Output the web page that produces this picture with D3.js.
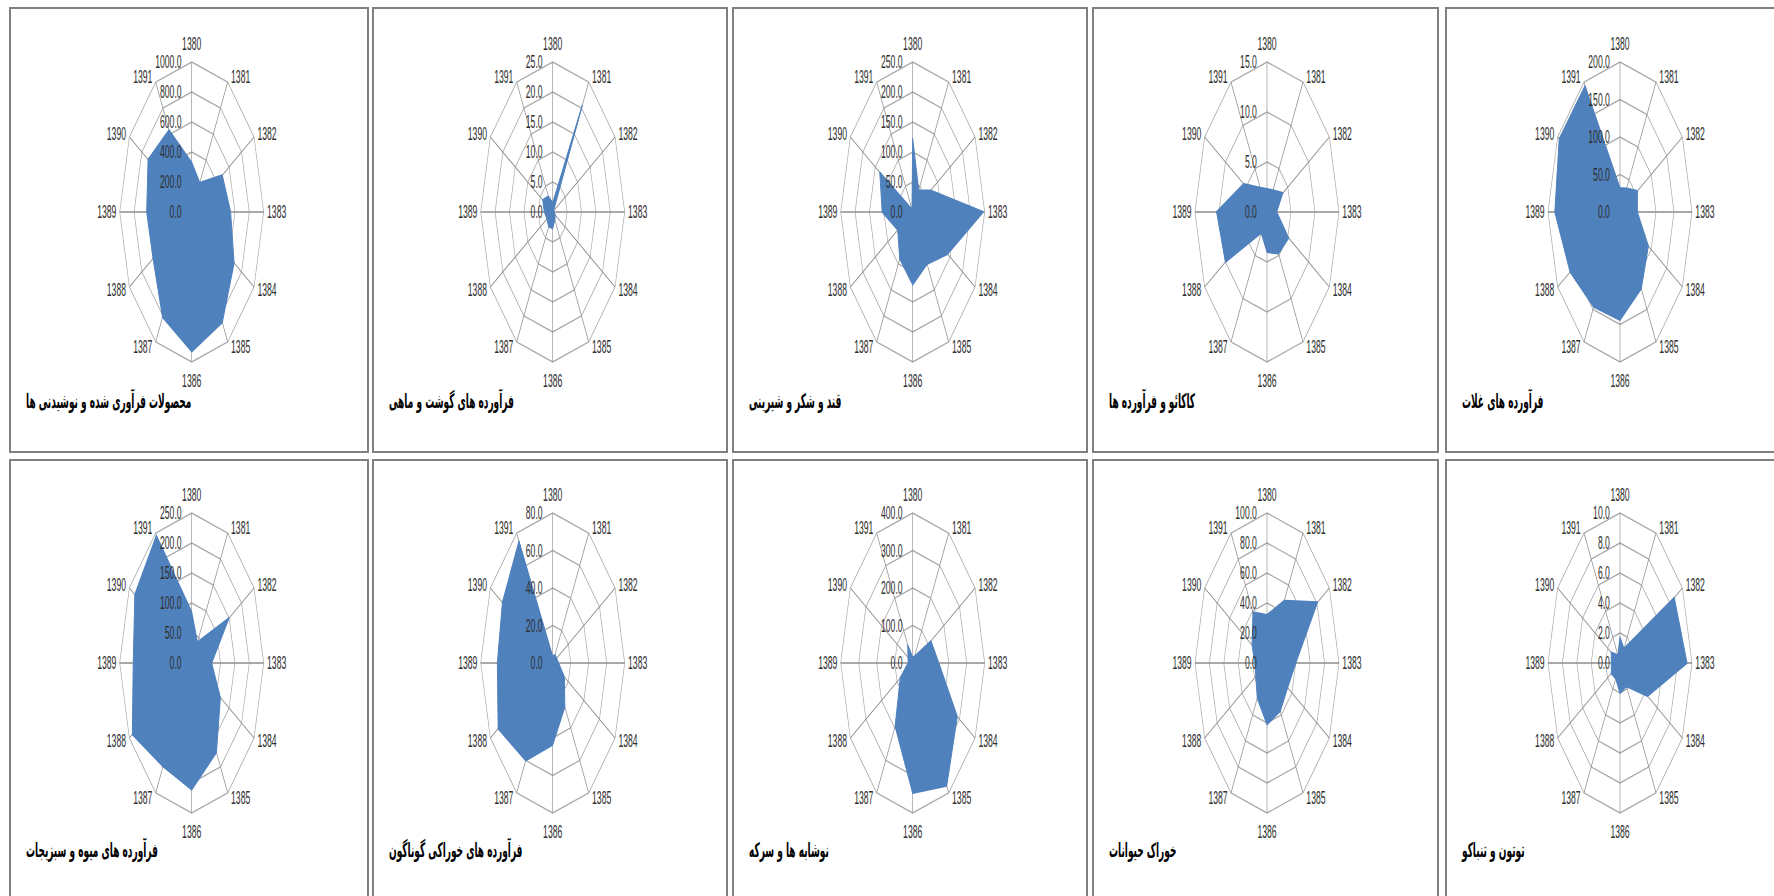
<!DOCTYPE html>
<html>
<head>
<meta charset="utf-8">
<script src="https://cdn.jsdelivr.net/npm/d3@7/dist/d3.min.js"></script>
<style>
  body { margin: 0; background: #fff; }
  text { font-family: "Liberation Sans", Arial, sans-serif; }
  .title { font-family: "DejaVu Sans", sans-serif; font-weight: bold; }
</style>
</head>
<body>
<div id="chart"></div>
<script>
// years on the radar spokes
var years = ["1380", "1381", "1382", "1383", "1384", "1385", "1386", "1387", "1388", "1389", "1390", "1391"];

// panel titles (top row left->right, then bottom row)
var titles = [
  "محصولات فرآوری شده و نوشیدنی ها",
  "فرآورده های گوشت و ماهی",
  "قند و شکر و شیرینی",
  "کاکائو و فرآورده ها",
  "فرآورده های غلات",
  "فرآورده های میوه و سبزیجات",
  "فرآورده های خوراکی گوناگون",
  "نوشابه ها و سرکه",
  "خوراک حیوانات",
  "توتون و تنباکو"
];

// axis maximum and tick step per panel
var axisMax  = [1000, 25, 250, 15, 200, 250, 80, 400, 100, 10];
var axisStep = [200, 5, 50, 5, 50, 50, 20, 100, 20, 2];

// series values, 1380..1391
var processedDrinks = [330, 225, 490, 540, 680, 850, 930, 810, 620, 625, 700, 630];
var meatFish        = [1.5, 20.5, 0.3, 0.5, 1.0, 1.5, 2.7, 2.8, 2.3, 2.9, 4.0, 3.0];
var sugarSweets     = [122, 42, 72, 245, 140, 100, 121, 90, 60, 106, 132, 5];
var cocoa           = [2.3, 2.5, 3.8, 2.0, 5.2, 4.8, 4.0, 2.4, 10.0, 10.5, 5.6, 2.8];
var cereals         = [32, 36, 56, 48, 91, 118, 144, 146, 160, 181, 195, 194];
var fruitVeg        = [85, 40, 149, 69, 115, 172, 211, 199, 238, 203, 228, 245];
var miscFood        = [3.5, 5, 5, 6.4, 15, 27, 43.6, 60, 70, 61.5, 64.5, 75];
var drinksVinegar   = [15, 20, 117, 145, 286, 378, 347, 195, 80, 25, 30, 55];
var animalFeed      = [32, 48, 81, 40, 33, 37, 41, 27, 18, 17, 24, 39];
var tobacco         = [1.7, 1.1, 8.7, 9.3, 4.4, 1.8, 2.0, 1.2, 1.4, 1.2, 1.4, 0.6];

var seriesList = [processedDrinks, meatFish, sugarSweets, cocoa, cereals,
                  fruitVeg, miscFood, drinksVinegar, animalFeed, tobacco];

var width = 1774, height = 896;
var R = 150, squash = 0.48;
var colLeft   = [10, 373, 733, 1093, 1446],
    colRight  = [368, 727, 1087, 1438, 1800],
    colCenter = [191.7, 552.7, 912.7, 1267, 1620];
var rowTop = [8, 460], rowBottom = [452, 910], rowCenter = [212, 663], rowTitle = [402, 851];

var svg = d3.select("#chart").append("svg")
    .attr("width", width)
    .attr("height", height);

var angle = d3.scaleLinear().domain([0, years.length]).range([0, 2 * Math.PI]);

seriesList.forEach(function(values, k) {
  var row = Math.floor(k / 5), col = k % 5;

  // frame
  svg.append("rect")
    .attr("x", colLeft[col]).attr("y", rowTop[row])
    .attr("width", colRight[col] - colLeft[col])
    .attr("height", rowBottom[row] - rowTop[row])
    .attr("fill", "none")
    .attr("stroke", "#808080")
    .attr("stroke-width", 2);

  var r = d3.scaleLinear().domain([0, axisMax[k]]).range([0, R]);
  var ticks = d3.range(0, axisMax[k] + axisStep[k] / 2, axisStep[k]);

  var g = svg.append("g")
    .attr("transform", "translate(" + colCenter[col] + "," + rowCenter[row] + ") scale(" + squash + ",1)");

  var ring = d3.lineRadial()
    .angle(function(d, i) { return angle(i); })
    .radius(function(d) { return r(d); })
    .curve(d3.curveLinearClosed);

  // rings
  g.selectAll(".ring")
    .data(ticks.slice(1))
    .enter().append("path")
      .attr("class", "ring")
      .attr("d", function(t) { return ring(years.map(function() { return t; })); })
      .attr("fill", "none")
      .attr("stroke", "#a6a6a6")
      .attr("stroke-width", 1.3);

  // spokes
  g.selectAll(".spoke")
    .data(years)
    .enter().append("line")
      .attr("class", "spoke")
      .attr("x1", 0).attr("y1", 0)
      .attr("x2", function(d, i) { return R * Math.sin(angle(i)); })
      .attr("y2", function(d, i) { return -R * Math.cos(angle(i)); })
      .attr("stroke", "#8c8c8c")
      .attr("stroke-width", 1.3);

  // filled area
  g.append("path")
    .attr("d", ring(values))
    .attr("fill", "#4f81bd")
    .attr("stroke", "#4f81bd")
    .attr("stroke-width", 2)
    .attr("stroke-linejoin", "round");

  // year labels
  g.selectAll(".cat")
    .data(years)
    .enter().append("text")
      .attr("class", "cat")
      .attr("x", function(d, i) {
        var s = Math.sin(angle(i));
        return R * s + (Math.abs(s) < 0.01 ? 0 : (s > 0 ? 7 : -7));
      })
      .attr("y", function(d, i) {
        var s = Math.sin(angle(i)), c = Math.cos(angle(i));
        if (Math.abs(s) < 0.01) return -R * c - 18.5 * c;
        return -R * c - 6 * c;
      })
      .attr("text-anchor", function(d, i) {
        var s = Math.sin(angle(i));
        return Math.abs(s) < 0.01 ? "middle" : (s > 0 ? "start" : "end");
      })
      .attr("dominant-baseline", "central")
      .attr("font-size", 18)
      .attr("fill", "#2e2e2e")
      .text(function(d) { return d; });

  // value labels
  g.selectAll(".tick")
    .data(ticks)
    .enter().append("text")
      .attr("class", "tick")
      .attr("x", -21)
      .attr("y", function(t) { return -r(t); })
      .attr("text-anchor", "end")
      .attr("dominant-baseline", "central")
      .attr("font-size", 18)
      .attr("fill", "#2e2e2e")
      .text(function(t) { return d3.format(".1f")(t); });

  // title
  svg.append("g")
    .attr("transform", "translate(" + (colLeft[col] + 16) + "," + rowTitle[row] + ") scale(0.45,1)")
    .append("text")
      .attr("class", "title")
      .attr("text-anchor", "start")
      .attr("dominant-baseline", "central")
      .attr("font-size", 20)
      .attr("fill", "#000")
      .text(titles[k]);
});
</script>
</body>
</html>
